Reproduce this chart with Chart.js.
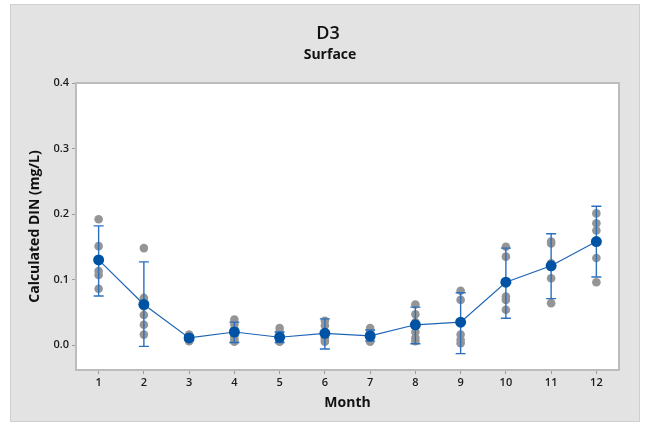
<!DOCTYPE html>
<html>
<head>
<meta charset="utf-8">
<script src="https://cdn.jsdelivr.net/npm/chart.js@4"></script>
<style>
  html, body { margin: 0; padding: 0; background: #ffffff; }
  #wrap { width: 648px; height: 425px; }
</style>
</head>
<body>
<div id="wrap"><canvas id="c" width="648" height="425"></canvas></div>
<script>
const chartTitle = "D3";
const chartSubtitle = "Surface";
const xTitle = "Month";
const yTitle = "Calculated DIN (mg/L)";

const months = [1, 2, 3, 4, 5, 6, 7, 8, 9, 10, 11, 12];
const yTicks = [0.0, 0.1, 0.2, 0.3, 0.4];

// individual observations per month
const m1  = [0.192, 0.151, 0.113, 0.107, 0.086];
const m2  = [0.148, 0.072, 0.059, 0.046, 0.031, 0.016];
const m3  = [0.016, 0.014, 0.012, 0.010, 0.007, 0.006];
const m4  = [0.039, 0.032, 0.025, 0.013, 0.008, 0.005];
const m5  = [0.026, 0.020, 0.010, 0.006, 0.006, 0.005];
const m6  = [0.037, 0.030, 0.011, 0.008, 0.005];
const m7  = [0.026, 0.020, 0.013, 0.009, 0.005];
const m8  = [0.062, 0.047, 0.035, 0.020, 0.011, 0.006];
const m9  = [0.083, 0.069, 0.016, 0.008, 0.003];
const m10 = [0.150, 0.135, 0.074, 0.069, 0.054];
const m11 = [0.158, 0.155, 0.125, 0.121, 0.102, 0.064];
const m12 = [0.201, 0.186, 0.175, 0.133, 0.096];
const individual = [m1, m2, m3, m4, m5, m6, m7, m8, m9, m10, m11, m12];

// monthly means and 95% CI ends
const means  = [0.130, 0.062, 0.011, 0.020, 0.012, 0.018, 0.014, 0.031, 0.035, 0.096, 0.121, 0.158];
const ciLow  = [0.075, -0.002, 0.007, 0.004, 0.004, -0.006, 0.006, 0.002, -0.013, 0.041, 0.071, 0.104];
const ciHigh = [0.182, 0.127, 0.015, 0.035, 0.020, 0.040, 0.023, 0.058, 0.080, 0.148, 0.170, 0.212];

const FONT = "'Open Sans', 'Noto Sans', 'DejaVu Sans', sans-serif";

const indivPoints = [];
months.forEach((m, i) => individual[i].forEach(v => indivPoints.push({x: m, y: v})));
const meanPoints = months.map((m, i) => ({x: m, y: means[i]}));

const panelPlugin = {
  id: 'panel',
  beforeDraw(chart) {
    const ctx = chart.ctx;
    ctx.save();
    ctx.fillStyle = '#ffffff';
    ctx.fillRect(0, 0, chart.width, chart.height);
    ctx.fillStyle = '#e3e3e3';
    ctx.fillRect(10, 4, 630, 418);
    ctx.strokeStyle = '#cfcfcf';
    ctx.lineWidth = 1;
    ctx.strokeRect(10.5, 4.5, 629, 417);
    const a = chart.chartArea;
    ctx.fillStyle = '#ffffff';
    ctx.fillRect(a.left, a.top, a.right - a.left, a.bottom - a.top);
    ctx.restore();
  },
  afterDraw(chart) {
    const ctx = chart.ctx;
    const a = chart.chartArea;
    ctx.save();
    ctx.strokeStyle = '#bcbcbc';
    ctx.lineWidth = 2;
    ctx.strokeRect(a.left, a.top, a.right - a.left, a.bottom - a.top);
    ctx.fillStyle = '#111111';
    ctx.textAlign = 'center';
    ctx.textBaseline = 'middle';
    ctx.font = "600 18px " + FONT;
    ctx.fillText(chartTitle, 328, 34);
    ctx.font = "bold 14px " + FONT;
    ctx.fillText(chartSubtitle, 330, 55);
    ctx.restore();
  }
};

const errorBarPlugin = {
  id: 'errbars',
  afterDatasetDraw(chart, args) {
    if (args.index !== 0) return;
    const ctx = chart.ctx;
    const xs = chart.scales.x, ys = chart.scales.y;
    ctx.save();
    ctx.strokeStyle = '#2b6fbf';
    ctx.lineWidth = 1.4;
    months.forEach((m, i) => {
      const px = xs.getPixelForValue(m);
      const y1 = ys.getPixelForValue(ciLow[i]);
      const y2 = ys.getPixelForValue(ciHigh[i]);
      ctx.beginPath();
      ctx.moveTo(px, y1); ctx.lineTo(px, y2);
      ctx.moveTo(px - 5, y1); ctx.lineTo(px + 5, y1);
      ctx.moveTo(px - 5, y2); ctx.lineTo(px + 5, y2);
      ctx.stroke();
    });
    ctx.restore();
  }
};

new Chart(document.getElementById('c'), {
  type: 'scatter',
  data: {
    datasets: [
      {
        label: 'Individual',
        data: indivPoints,
        pointRadius: 4.3,
        pointHoverRadius: 4.3,
        pointBackgroundColor: '#959595',
        pointBorderWidth: 0,
        showLine: false,
        order: 2
      },
      {
        label: 'Mean',
        data: meanPoints,
        showLine: true,
        borderColor: '#1d64b6',
        borderWidth: 1.2,
        pointRadius: 5.5,
        pointHoverRadius: 5.5,
        pointBackgroundColor: '#0053a4',
        pointBorderWidth: 0,
        order: 1
      }
    ]
  },
  options: {
    responsive: false,
    animation: false,
    devicePixelRatio: 1,
    layout: { padding: { left: 10, right: 29, top: 83, bottom: 13 } },
    plugins: { legend: { display: false }, tooltip: { enabled: false }, title: { display: false } },
    scales: {
      x: {
        type: 'linear',
        min: 0.5,
        max: 12.5,
        afterBuildTicks(scale) { scale.ticks = months.map(v => ({value: v})); },
        afterFit(scale) { scale.height = 42; },
        ticks: {
          padding: 2,
          color: '#1a1a1a',
          font: { family: FONT, size: 11, weight: '600' },
          callback: v => String(v),
          maxRotation: 0
        },
        grid: { drawOnChartArea: false, drawTicks: true, tickLength: 4, color: '#9c9c9c' },
        border: { display: true, color: '#bcbcbc', width: 2 },
        title: {
          display: true,
          text: xTitle,
          color: '#111111',
          font: { family: FONT, size: 14, weight: 'bold' },
          padding: { top: 0, bottom: 1 }
        }
      },
      y: {
        type: 'linear',
        min: -0.038,
        max: 0.4,
        afterBuildTicks(scale) { scale.ticks = yTicks.map(v => ({value: v})); },
        afterFit(scale) { scale.width = 66; },
        ticks: {
          padding: 3,
          color: '#1a1a1a',
          font: { family: FONT, size: 11, weight: '600' },
          callback: v => Number(v).toFixed(1)
        },
        grid: { drawOnChartArea: false, drawTicks: true, tickLength: 4, color: '#9c9c9c' },
        border: { display: true, color: '#bcbcbc', width: 2 },
        title: {
          display: true,
          text: yTitle,
          color: '#111111',
          font: { family: FONT, size: 14, weight: 'bold' },
          padding: { top: 17, bottom: 0 }
        }
      }
    }
  },
  plugins: [panelPlugin, errorBarPlugin]
});
</script>
</body>
</html>
